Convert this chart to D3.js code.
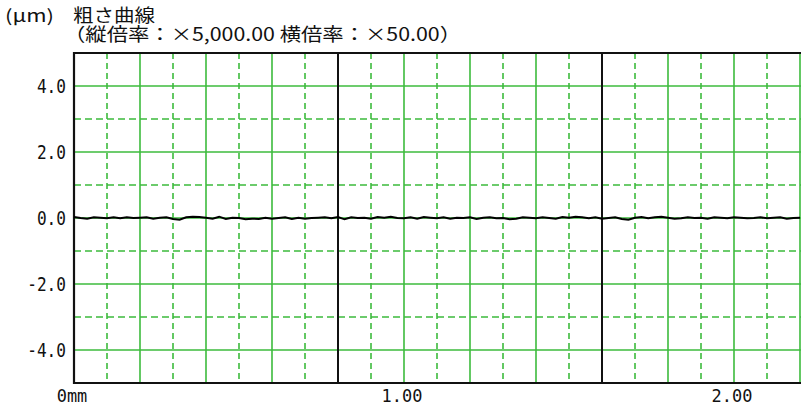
<!DOCTYPE html>
<html><head><meta charset="utf-8">
<script src="https://cdn.jsdelivr.net/npm/d3@7"></script>
<style>
html,body{margin:0;padding:0;background:#fff;}
svg{display:block;}
</style>
</head><body>
<svg id="c" width="801" height="406"></svg>
<script>
// ---- data ----
const unitLabel = "(μm)";
const titleLine1 = "粗さ曲線";
const titleLine2 = "（縦倍率：×5,000.00 横倍率：×50.00）";
const yTicks = [4, 2, 0, -2, -4];
const yTickLabels = ["4.0", "2.0", "0.0", "-2.0", "-4.0"];
const xTicks = [0, 1, 2];
const xTickLabels = ["0mm", "1.00", "2.00"];
const xDomain = [0, 2.2];
const yDomain = [-5, 5];
const profileStep = 0.02; // mm between samples
const profile = [
  0.03, 0.00,-0.02, 0.02, 0.01,-0.01, 0.02,-0.01, 0.02, 0.00,
  0.01, 0.02,-0.02, 0.01, 0.02,-0.03,-0.05, 0.02, 0.04, 0.03,
  0.01,-0.02, 0.04,-0.03, 0.01, 0.00,-0.04,-0.02,-0.03, 0.01,
 -0.02, 0.00, 0.02,-0.03, 0.01,-0.02, 0.00, 0.01, 0.02,-0.01,
  0.03,-0.04, 0.02, 0.00, 0.01,-0.02, 0.03, 0.01, 0.04, 0.00,
 -0.01, 0.02,-0.02, 0.03, 0.01,-0.01, 0.02,-0.02, 0.01, 0.00,
  0.02,-0.03, 0.01, 0.02,-0.01, 0.00,-0.04,-0.02, 0.02, 0.01,
 -0.01, 0.02, 0.00,-0.02, 0.03, 0.01, 0.04, 0.02,-0.01, 0.02,
 -0.02, 0.00, 0.02,-0.03,-0.05, 0.01, 0.03,-0.01, 0.02, 0.04,
  0.01,-0.02,-0.01, 0.02, 0.00, 0.01,-0.02, 0.02, 0.01,-0.01,
  0.02, 0.01,-0.01, 0.00, 0.02,-0.01, 0.01, 0.02,-0.02, 0.00,
  0.01
];

// ---- layout ----
const svg = d3.select("#c");
const L = 74, R = 800, T = 53, B = 383;
const x = d3.scaleLinear().domain(xDomain).range([L, R]);
const y = d3.scaleLinear().domain(yDomain).range([B, T]);
const green = "#3dbb3d";

// grid: vertical lines every 0.1 mm
const vGrid = d3.range(1, 23).map(i => i / 10);
const g = svg.append("g");
vGrid.forEach((v, i) => {
  const k = i + 1; // multiples of 0.1
  if (k % 8 === 0) return; // black lines drawn later
  const solid = k % 2 === 0;
  g.append("line")
    .attr("x1", x(v)).attr("x2", x(v))
    .attr("y1", T).attr("y2", B)
    .attr("stroke", green).attr("stroke-width", 1.6)
    .attr("stroke-dasharray", solid ? null : "6,4");
});
// horizontal lines every 1 µm
d3.range(-4, 5).forEach(v => {
  const solid = v % 2 === 0;
  g.append("line")
    .attr("x1", L).attr("x2", R + 2)
    .attr("y1", y(v)).attr("y2", y(v))
    .attr("stroke", green).attr("stroke-width", 1.6)
    .attr("stroke-dasharray", solid ? null : "7,4");
});
// black verticals every 0.8 mm
[0.8, 1.6].forEach(v => {
  g.append("line")
    .attr("x1", x(v)).attr("x2", x(v))
    .attr("y1", T).attr("y2", B)
    .attr("stroke", "#111").attr("stroke-width", 2);
});
// frame
svg.append("path")
  .attr("d", `M${R + 2},${T}H${L}V${B}H${R + 2}`)
  .attr("fill", "none").attr("stroke", "#111").attr("stroke-width", 2.2);

// profile
const line = d3.line()
  .x((d, i) => x(i * profileStep))
  .y(d => y(d));
svg.append("path")
  .datum(profile)
  .attr("d", line)
  .attr("fill", "none").attr("stroke", "#000").attr("stroke-width", 2);

// y tick labels
const mono = "'DejaVu Sans Mono', 'Liberation Mono', monospace";
yTicks.forEach((v, i) => {
  const s = yTickLabels[i];
  svg.append("text")
    .attr("x", 66).attr("y", y(v) + 7)
    .attr("text-anchor", "end")
    .attr("font-family", mono).attr("font-size", 19)
    .attr("textLength", s.length * 9.7).attr("lengthAdjust", "spacingAndGlyphs")
    .attr("fill", "#111")
    .text(s);
});
// x tick labels
xTicks.forEach((v, i) => {
  const s = xTickLabels[i];
  svg.append("text")
    .attr("x", x(v) - 2).attr("y", 402)
    .attr("text-anchor", "middle")
    .attr("font-family", mono).attr("font-size", 18)
    .attr("textLength", s.length * 10.2).attr("lengthAdjust", "spacingAndGlyphs")
    .attr("fill", "#111")
    .text(s);
});

// titles
const cjk = "'Noto Sans CJK JP', sans-serif";
svg.append("text")
  .attr("x", 5).attr("y", 22)
  .attr("font-family", cjk).attr("font-size", 17)
  .attr("textLength", 49).attr("lengthAdjust", "spacingAndGlyphs")
  .attr("fill", "#111").text(unitLabel);
svg.append("text")
  .attr("x", 73).attr("y", 22)
  .attr("font-family", cjk).attr("font-size", 18)
  .attr("textLength", 82).attr("lengthAdjust", "spacingAndGlyphs")
  .attr("fill", "#111").text(titleLine1);
svg.append("text")
  .attr("x", 64).attr("y", 41)
  .attr("font-family", cjk).attr("font-size", 18)
  .attr("textLength", 397).attr("lengthAdjust", "spacingAndGlyphs")
  .attr("fill", "#111").text(titleLine2);
</script>
</body></html>
